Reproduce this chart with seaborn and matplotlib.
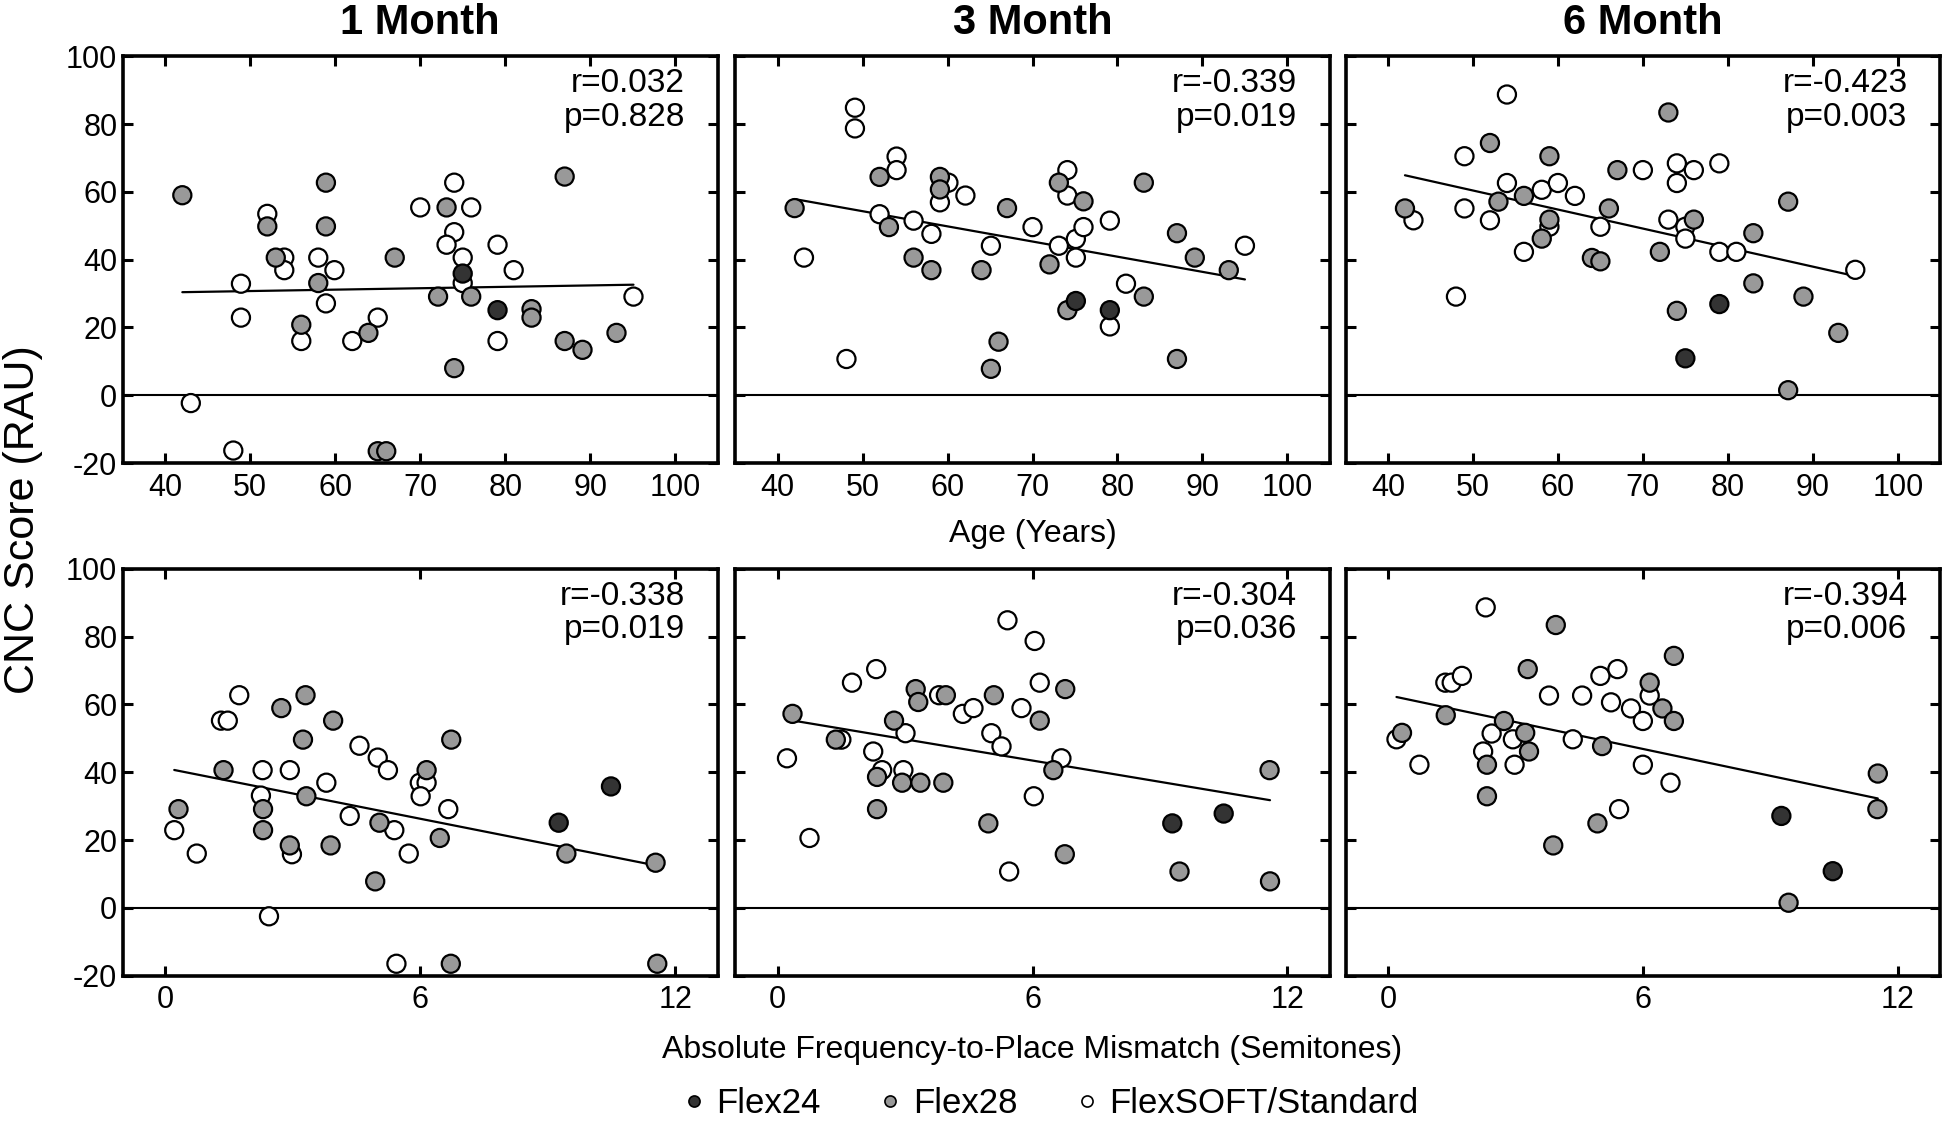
import pandas as pd
import seaborn as sns
import matplotlib.pyplot as plt
from matplotlib.lines import Line2D

# ---- data ----
# top row: age (years) vs CNC score
age_1m_f24_x = [75, 79.1]
age_1m_f24_y = [35.9, 25.1]
age_1m_f28_x = [42, 58.9, 52, 58.9, 53, 67, 58, 73.1, 87, 72.1, 76, 56, 63.9, 83.1, 83.1, 87, 89.1, 93.1, 74, 65, 66]
age_1m_f28_y = [59, 62.7, 49.8, 49.8, 40.6, 40.6, 33.1, 55.4, 64.5, 29.1, 29.1, 20.8, 18.4, 25.4, 22.9, 16, 13.4, 18.4, 8, -16.5, -16.5]
age_1m_std_x = [52, 54, 54, 48.9, 48.9, 58, 59.9, 58.9, 56, 62, 65, 70, 74, 76, 74, 73.1, 75, 75, 79.1, 81, 79.1, 95.1, 43, 48]
age_1m_std_y = [53.5, 40.6, 36.9, 32.9, 22.9, 40.6, 36.9, 27.1, 16, 16, 22.9, 55.4, 62.7, 55.4, 48.1, 44.4, 40.6, 33.1, 44.4, 36.9, 16, 29.1, -2.3, -16.3]

age_3m_f24_x = [75.1, 79.1]
age_3m_f24_y = [27.8, 25.1]
age_3m_f28_x = [42, 52, 59.1, 59.1, 53.1, 56, 58.1, 64, 67, 72, 73.1, 76, 74.1, 83.1, 83.1, 87, 89.1, 93.1, 87, 66, 65.1]
age_3m_f28_y = [55.2, 64.4, 64.4, 60.7, 49.6, 40.6, 36.9, 36.9, 55.2, 38.6, 62.7, 57.2, 25.1, 62.7, 29.1, 47.8, 40.6, 36.9, 10.7, 15.8, 7.8]
age_3m_std_x = [49.1, 49.1, 54, 54, 60.1, 59.1, 62.1, 52, 56, 58.1, 43.1, 48.1, 65.1, 70, 74.1, 74.1, 73.1, 75.1, 76, 75.1, 79.1, 79.1, 81, 95]
age_3m_std_y = [84.8, 78.7, 70.4, 66.4, 62.7, 56.9, 58.9, 53.4, 51.5, 47.6, 40.6, 10.7, 44.1, 49.6, 66.4, 58.9, 44.1, 46.1, 49.6, 40.6, 51.5, 20.3, 32.9, 44.1]

age_6m_f24_x = [79, 75]
age_6m_f24_y = [26.9, 10.9]
age_6m_f28_x = [42, 52, 53, 56, 59, 59, 58.1, 64, 65, 66, 67, 72, 73, 76, 74, 83, 83, 87.1, 88.9, 93, 87.1]
age_6m_f28_y = [55.1, 74.4, 57.1, 58.8, 70.5, 51.8, 46.2, 40.5, 39.5, 55.1, 66.4, 42.3, 83.4, 51.8, 24.9, 47.8, 33, 57.1, 29.1, 18.4, 1.5]
age_6m_std_x = [54, 49, 49, 43, 52, 54, 58.1, 60, 62, 59, 56, 48, 65, 70, 74, 76, 74, 73, 75, 75, 79, 79, 81, 95]
age_6m_std_y = [88.7, 70.5, 55.1, 51.6, 51.6, 62.6, 60.6, 62.6, 58.8, 49.7, 42.3, 29.1, 49.7, 66.4, 68.4, 66.4, 62.6, 51.8, 49.7, 46.2, 68.4, 42.3, 42.3, 37]

# bottom row: frequency-to-place mismatch (semitones) vs CNC score
fpm_1m_f24_x = [9.26, 10.49]
fpm_1m_f24_y = [25.1, 35.8]
fpm_1m_f28_x = [0.31, 1.37, 2.73, 3.30, 3.24, 3.95, 2.30, 2.30, 3.32, 2.93, 3.89, 5.04, 4.94, 6.15, 6.73, 6.46, 9.44, 11.54, 6.72, 11.58]
fpm_1m_f28_y = [29.1, 40.6, 58.9, 62.7, 49.6, 55.2, 29.1, 22.9, 32.9, 18.4, 18.4, 25.1, 7.8, 40.6, 49.6, 20.6, 16.0, 13.3, -16.5, -16.5]
fpm_1m_std_x = [0.21, 0.74, 1.31, 1.47, 1.74, 2.29, 2.25, 2.93, 2.98, 2.44, 3.79, 4.57, 5.00, 5.24, 4.34, 5.39, 5.73, 5.99, 6.15, 6.01, 6.66, 5.44]
fpm_1m_std_y = [22.9, 16.0, 55.2, 55.2, 62.7, 40.6, 33.1, 40.6, 15.8, -2.5, 36.9, 47.8, 44.3, 40.6, 27.1, 22.9, 16.0, 36.9, 36.9, 32.9, 29.1, -16.5]

fpm_3m_f24_x = [9.29, 10.50]
fpm_3m_f24_y = [24.9, 27.8]
fpm_3m_f28_x = [0.35, 1.37, 2.74, 3.25, 3.31, 3.96, 2.34, 2.34, 2.93, 3.36, 3.90, 5.09, 4.96, 6.17, 6.77, 6.49, 6.76, 9.46, 11.58, 11.59]
fpm_3m_f28_y = [57.2, 49.6, 55.2, 64.5, 60.7, 62.7, 38.6, 29.1, 36.9, 36.9, 36.9, 62.7, 24.9, 55.2, 64.5, 40.6, 15.8, 10.7, 40.6, 7.8]
fpm_3m_std_x = [0.22, 0.75, 1.50, 1.75, 2.32, 2.25, 2.46, 3.01, 2.96, 3.80, 4.36, 4.61, 5.03, 5.27, 5.41, 5.74, 5.45, 6.05, 6.17, 6.03, 6.68]
fpm_3m_std_y = [44.1, 20.6, 49.6, 66.4, 70.4, 46.1, 40.6, 51.5, 40.6, 62.7, 57.2, 58.9, 51.5, 47.6, 84.8, 58.9, 10.7, 78.7, 66.4, 32.9, 44.1]

fpm_6m_f24_x = [9.26, 10.47]
fpm_6m_f24_y = [27.1, 10.8]
fpm_6m_f28_x = [0.33, 1.36, 3.95, 3.29, 2.73, 3.23, 3.32, 2.33, 2.33, 5.04, 4.93, 3.89, 6.16, 6.46, 6.73, 6.73, 9.43, 11.53, 11.52]
fpm_6m_f28_y = [51.6, 56.8, 83.4, 70.4, 55.1, 51.6, 46.1, 42.2, 32.9, 47.7, 24.9, 18.4, 66.4, 58.8, 55.1, 74.3, 1.5, 39.6, 29.1]
fpm_6m_std_x = [0.20, 0.74, 1.35, 1.50, 1.74, 2.30, 2.44, 2.24, 2.94, 2.98, 3.79, 4.57, 4.35, 5.00, 5.40, 5.25, 5.72, 6.00, 6.16, 6.00, 6.65, 5.44]
fpm_6m_std_y = [49.7, 42.2, 66.4, 66.4, 68.4, 88.6, 51.4, 46.1, 49.7, 42.2, 62.6, 62.6, 49.7, 68.4, 70.4, 60.6, 58.8, 55.1, 62.6, 42.2, 36.9, 29.1]

titles = ['1 Month', '3 Month', '6 Month']
r_age = ['0.032', '-0.339', '-0.423']
p_age = ['0.828', '0.019', '0.003']
r_fpm = ['-0.338', '-0.304', '-0.394']
p_fpm = ['0.019', '0.036', '0.006']
age_ticks = [40, 50, 60, 70, 80, 90, 100]
fpm_ticks = [0, 6, 12]
score_ticks = [-20, 0, 20, 40, 60, 80, 100]

groups = ['Flex24', 'Flex28', 'FlexSOFT/Standard']
colors = {'Flex24': '#333333', 'Flex28': '#999999', 'FlexSOFT/Standard': 'white'}


def make_df(x24, y24, x28, y28, xs, ys):
    # white first so the grey / dark points sit on top, as in the original
    parts = [
        pd.DataFrame({'x': xs, 'y': ys, 'device': 'FlexSOFT/Standard'}),
        pd.DataFrame({'x': x28, 'y': y28, 'device': 'Flex28'}),
        pd.DataFrame({'x': x24, 'y': y24, 'device': 'Flex24'}),
    ]
    return pd.concat(parts, ignore_index=True)


top = [
    make_df(age_1m_f24_x, age_1m_f24_y, age_1m_f28_x, age_1m_f28_y, age_1m_std_x, age_1m_std_y),
    make_df(age_3m_f24_x, age_3m_f24_y, age_3m_f28_x, age_3m_f28_y, age_3m_std_x, age_3m_std_y),
    make_df(age_6m_f24_x, age_6m_f24_y, age_6m_f28_x, age_6m_f28_y, age_6m_std_x, age_6m_std_y),
]
bottom = [
    make_df(fpm_1m_f24_x, fpm_1m_f24_y, fpm_1m_f28_x, fpm_1m_f28_y, fpm_1m_std_x, fpm_1m_std_y),
    make_df(fpm_3m_f24_x, fpm_3m_f24_y, fpm_3m_f28_x, fpm_3m_f28_y, fpm_3m_std_x, fpm_3m_std_y),
    make_df(fpm_6m_f24_x, fpm_6m_f24_y, fpm_6m_f28_x, fpm_6m_f28_y, fpm_6m_std_x, fpm_6m_std_y),
]

sns.set_style('ticks')
plt.rcParams['font.family'] = ['Liberation Sans', 'DejaVu Sans']
plt.rcParams['axes.unicode_minus'] = False
for key in ['text.color', 'axes.edgecolor', 'axes.labelcolor', 'xtick.color', 'ytick.color']:
    plt.rcParams[key] = 'black'

fig = plt.figure(figsize=(19.5, 11.24), dpi=100)

lefts = [0.063, 0.377, 0.690]
w, h = 0.305, 0.362
rows = [0.588, 0.132]


def draw_panel(ax, df, xlim, xticks, r, p):
    ax.axhline(0, color='black', lw=1.5, zorder=1)
    sns.regplot(data=df, x='x', y='y', scatter=False, ci=None, ax=ax,
                line_kws={'color': 'black', 'lw': 1.6, 'zorder': 2})
    sns.scatterplot(data=df, x='x', y='y', hue='device', palette=colors,
                    s=170, edgecolor='black', linewidth=1.6, legend=False,
                    ax=ax, zorder=3)
    ax.set_xlim(*xlim)
    ax.set_ylim(-20, 100)
    ax.set_xticks(xticks)
    ax.set_yticks(score_ticks)
    ax.set_xlabel('')
    ax.set_ylabel('')
    for sp in ax.spines.values():
        sp.set_visible(True)
        sp.set_linewidth(2.6)
    ax.tick_params(direction='in', length=7, width=2.2, top=True, right=True,
                   labelsize=22, pad=7)
    ax.text(0.945, 0.97, f'r={r}\np={p}', transform=ax.transAxes,
            ha='right', va='top', fontsize=24, linespacing=1.1)


for i in range(3):
    ax = fig.add_axes([lefts[i], rows[0], w, h])
    draw_panel(ax, top[i], (35, 105), age_ticks, r_age[i], p_age[i])
    ax.set_title(titles[i], fontsize=30, fontweight='bold', pad=16)
    if i > 0:
        ax.set_yticklabels([])
    else:
        ax.tick_params(axis='y', pad=4)
    if i == 1:
        ax.set_xlabel('Age (Years)', fontsize=23, labelpad=12)

    ax = fig.add_axes([lefts[i], rows[1], w, h])
    draw_panel(ax, bottom[i], (-1, 13), fpm_ticks, r_fpm[i], p_fpm[i])
    if i > 0:
        ax.set_yticklabels([])
    else:
        ax.tick_params(axis='y', pad=4)
    if i == 1:
        ax.set_xlabel('Absolute Frequency-to-Place Mismatch (Semitones)', fontsize=23, labelpad=14)

fig.text(0.012, 0.538, 'CNC Score (RAU)', rotation=90, ha='center', va='center', fontsize=31)

handles = [Line2D([], [], marker='o', ls='', markersize=8, markerfacecolor=colors[g],
                  markeredgecolor='black', markeredgewidth=1.2) for g in groups]
fig.legend(handles, groups, loc='center', bbox_to_anchor=(0.538, 0.018), ncol=3,
           frameon=False, fontsize=25, handlelength=0.8, handletextpad=0.25,
           columnspacing=1.6)

fig.savefig('out.png', dpi=100)
